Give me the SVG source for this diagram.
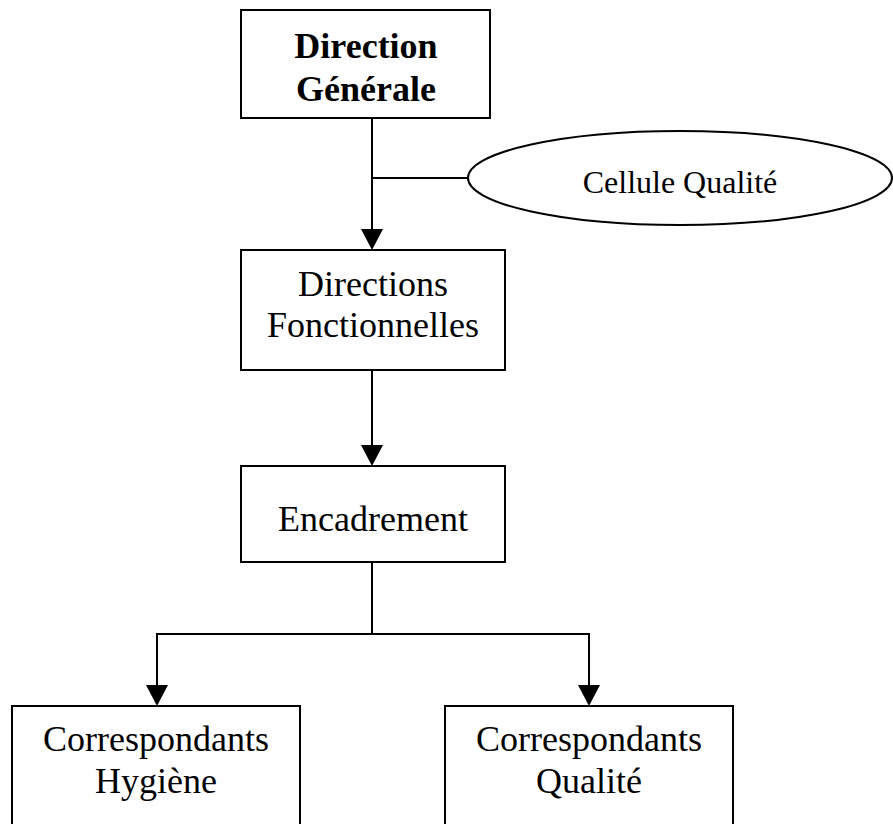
<svg xmlns="http://www.w3.org/2000/svg" width="893" height="824" viewBox="0 0 893 824">
<style>
.box{fill:#fff;stroke:#000;stroke-width:2}
.ln{fill:none;stroke:#000;stroke-width:2}
.ah{fill:#000}
.t{font-family:"Liberation Serif","Times New Roman",serif;font-size:36px;fill:#000;text-anchor:middle}
.b{font-weight:bold}
.s{font-size:32px}
</style>
<rect width="893" height="824" fill="#fff"/>
<g id="connectors">
<line class="ln" x1="372" y1="118" x2="372" y2="229"/>
<polygon class="ah" points="361,229 383,229 372,250"/>
<line class="ln" x1="372" y1="178" x2="468" y2="178"/>
<line class="ln" x1="372" y1="370" x2="372" y2="445"/>
<polygon class="ah" points="361,445 383,445 372,466"/>
<polyline class="ln" points="372,562 372,634"/>
<polyline class="ln" points="157,685 157,634 589,634 589,685"/>
<polygon class="ah" points="146,685 168,685 157,706"/>
<polygon class="ah" points="578,685 600,685 589,706"/>
</g>
<g id="direction-generale">
<rect class="box" x="241" y="10" width="249" height="108"/>
<text class="t b" x="366" y="58">Direction</text>
<text class="t b" x="366" y="101">Générale</text>
</g>
<g id="cellule-qualite">
<ellipse class="box" cx="680" cy="178" rx="212" ry="47"/>
<text class="t s" x="680" y="193">Cellule Qualité</text>
</g>
<g id="directions-fonctionnelles">
<rect class="box" x="241" y="250" width="264" height="120"/>
<text class="t" x="373" y="296">Directions</text>
<text class="t" x="373" y="337">Fonctionnelles</text>
</g>
<g id="encadrement">
<rect class="box" x="241" y="466" width="264" height="96"/>
<text class="t" x="373" y="531">Encadrement</text>
</g>
<g id="correspondants-hygiene">
<rect class="box" x="12" y="706" width="288" height="130"/>
<text class="t" x="156" y="751">Correspondants</text>
<text class="t" x="156" y="793">Hygiène</text>
</g>
<g id="correspondants-qualite">
<rect class="box" x="445" y="706" width="288" height="130"/>
<text class="t" x="589" y="751">Correspondants</text>
<text class="t" x="589" y="793">Qualité</text>
</g>
</svg>
